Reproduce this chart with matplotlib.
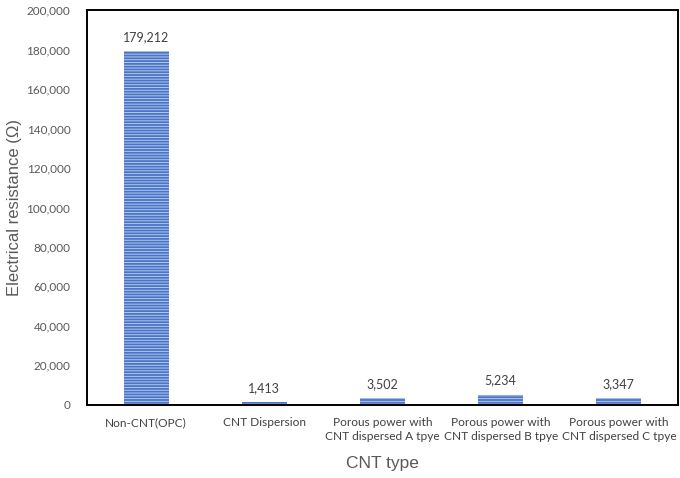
import numpy as np
import matplotlib.pyplot as plt

plt.rcParams['font.family'] = ['Lato', 'DejaVu Sans']
plt.rcParams['hatch.linewidth'] = 0.7

categories = ["Non-CNT(OPC)", "CNT Dispersion",
              "Porous power with\nCNT dispersed A tpye",
              "Porous power with\nCNT dispersed B tpye",
              "Porous power with\nCNT dispersed C tpye"]
resistance = [179212, 1413, 3502, 5234, 3347]

fig = plt.figure(figsize=(6.8, 4.78), dpi=100)
ax = fig.add_axes([0.128, 0.153, 0.869, 0.826])

x = np.arange(len(categories))
ax.bar(x, resistance, width=0.38, color="#4a74c4", edgecolor="#b4c8ee",
       linewidth=0, hatch="------")
for xi, v in zip(x, resistance):
    ax.text(xi, v + 4000, f"{v:,}", ha="center", va="bottom", fontsize=9, color="#404040")

ax.set_xlim(-0.5, len(categories) - 0.5)
ax.set_ylim(0, 200000)
ax.set_yticks(np.arange(0, 200001, 20000))
ax.set_yticklabels([f"{t:,}" for t in range(0, 200001, 20000)])
ax.set_xticks(x)
ax.set_xticklabels(categories, fontsize=8.6, color="#404040", linespacing=1.3)
ax.tick_params(axis="y", labelsize=8.5, labelcolor="#595959", length=0, pad=12)
ax.tick_params(axis="x", length=0, pad=9)
for s in ax.spines.values():
    s.set_linewidth(1.4)
    s.set_color("black")

ax.set_xlabel("CNT type", fontsize=12.5, color="#595959", labelpad=10,
              family="Liberation Sans")
ax.set_ylabel("Electrical resistance (\u03a9)", fontsize=12, color="#595959", labelpad=3,
              family="Liberation Sans")

fig.savefig("out.png", dpi=100)
